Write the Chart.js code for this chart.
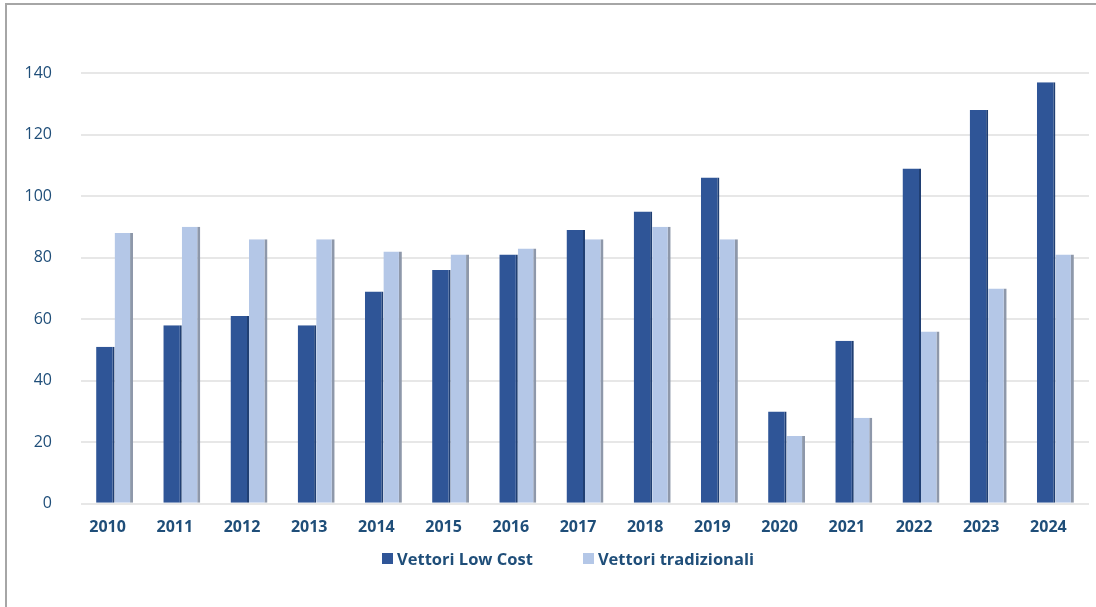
<!DOCTYPE html>
<html>
<head>
<meta charset="utf-8">
<script src="https://cdn.jsdelivr.net/npm/chart.js@4"></script>
<style>
  body { margin: 0; background: #fff; }
  #wrap { position: relative; width: 1096px; height: 607px; overflow: hidden; }
  #frame { position: absolute; left: 5px; top: 3px; width: 1200px; height: 700px; border: 2px solid #a6a6a6; box-sizing: border-box; }
  #chart { position: absolute; left: 0; top: 0; }
  #legend { position: absolute; top: 547px; left: 382px; display: flex; font: bold 16.5px "Open Sans"; color: #1f4e79; }
  .item { display: flex; align-items: center; }
  .box { width: 11px; height: 11px; margin-right: 4px; }
</style>
</head>
<body>
<div id="wrap">
  <div id="frame"></div>
  <canvas id="chart" width="1096" height="607"></canvas>
  <div id="legend"></div>
</div>
<script>
const years = ['2010', '2011', '2012', '2013', '2014', '2015', '2016', '2017', '2018', '2019', '2020', '2021', '2022', '2023', '2024'];
const lowCost = [51, 58, 61, 58, 69, 76, 81, 89, 95, 106, 30, 53, 109, 128, 137];
const traditional = [88, 90, 86, 86, 82, 81, 83, 86, 90, 86, 22, 28, 56, 70, 81];
const seriesNames = ['Vettori Low Cost', 'Vettori tradizionali'];
const seriesColors = ['#2f5597', '#b4c7e7'];
const yTicks = [0, 20, 40, 60, 80, 100, 120, 140];

const textColor = '#1f4e79';

let canvasElem = document.getElementById('chart');

function renderLegend() {
  let legend = document.getElementById('legend');
  for (let i = 0; i < seriesNames.length; i++) {
    let item = document.createElement('div');
    item.className = 'item';
    if (i > 0) item.style.marginLeft = '50px';
    let box = document.createElement('span');
    box.className = 'box';
    box.style.background = seriesColors[i];
    let label = document.createElement('span');
    label.textContent = seriesNames[i];
    item.appendChild(box);
    item.appendChild(label);
    legend.appendChild(item);
  }
}

function renderChart() {
  const data = {
    labels: years,
    datasets: [
      {
        label: seriesNames[0],
        data: lowCost,
        backgroundColor: seriesColors[0],
        borderColor: '#203f73',
        borderWidth: { right: 2, left: 0, top: 0, bottom: 0 },
        borderSkipped: false,
      },
      {
        label: seriesNames[1],
        data: traditional,
        backgroundColor: seriesColors[1],
        borderColor: '#8e98aa',
        borderWidth: { right: 3, left: 0, top: 0, bottom: 0 },
        borderSkipped: false,
      },
    ],
  };

  const config = {
    type: 'bar',
    data: data,
    options: {
      responsive: false,
      animation: false,
      layout: {
        padding: { top: 73, bottom: 56, left: 0, right: 7 },
      },
      plugins: {
        legend: { display: false },
        tooltip: { enabled: false },
      },
      datasets: {
        bar: {
          categoryPercentage: 0.55,
          barPercentage: 1.0,
        },
      },
      scales: {
        x: {
          grid: { display: false, drawTicks: false },
          border: { display: false },
          ticks: {
            color: textColor,
            font: { family: 'Open Sans', size: 16, weight: 'bold' },
            padding: 14,
            labelOffset: -7,
            maxRotation: 0,
          },
        },
        y: {
          min: 0,
          max: 140,
          afterFit: function (scale) { scale.width = 81; },
          afterBuildTicks: function (scale) {
            scale.ticks = yTicks.map(v => ({ value: v }));
          },
          grid: { color: '#e7e7e7', lineWidth: 2, drawTicks: false },
          border: { display: false },
          ticks: {
            color: textColor,
            font: { family: 'Open Sans', size: 16 },
            padding: 29,
          },
        },
      },
    },
  };

  new Chart(canvasElem, config);
}

renderLegend();
renderChart();
</script>
</body>
</html>
